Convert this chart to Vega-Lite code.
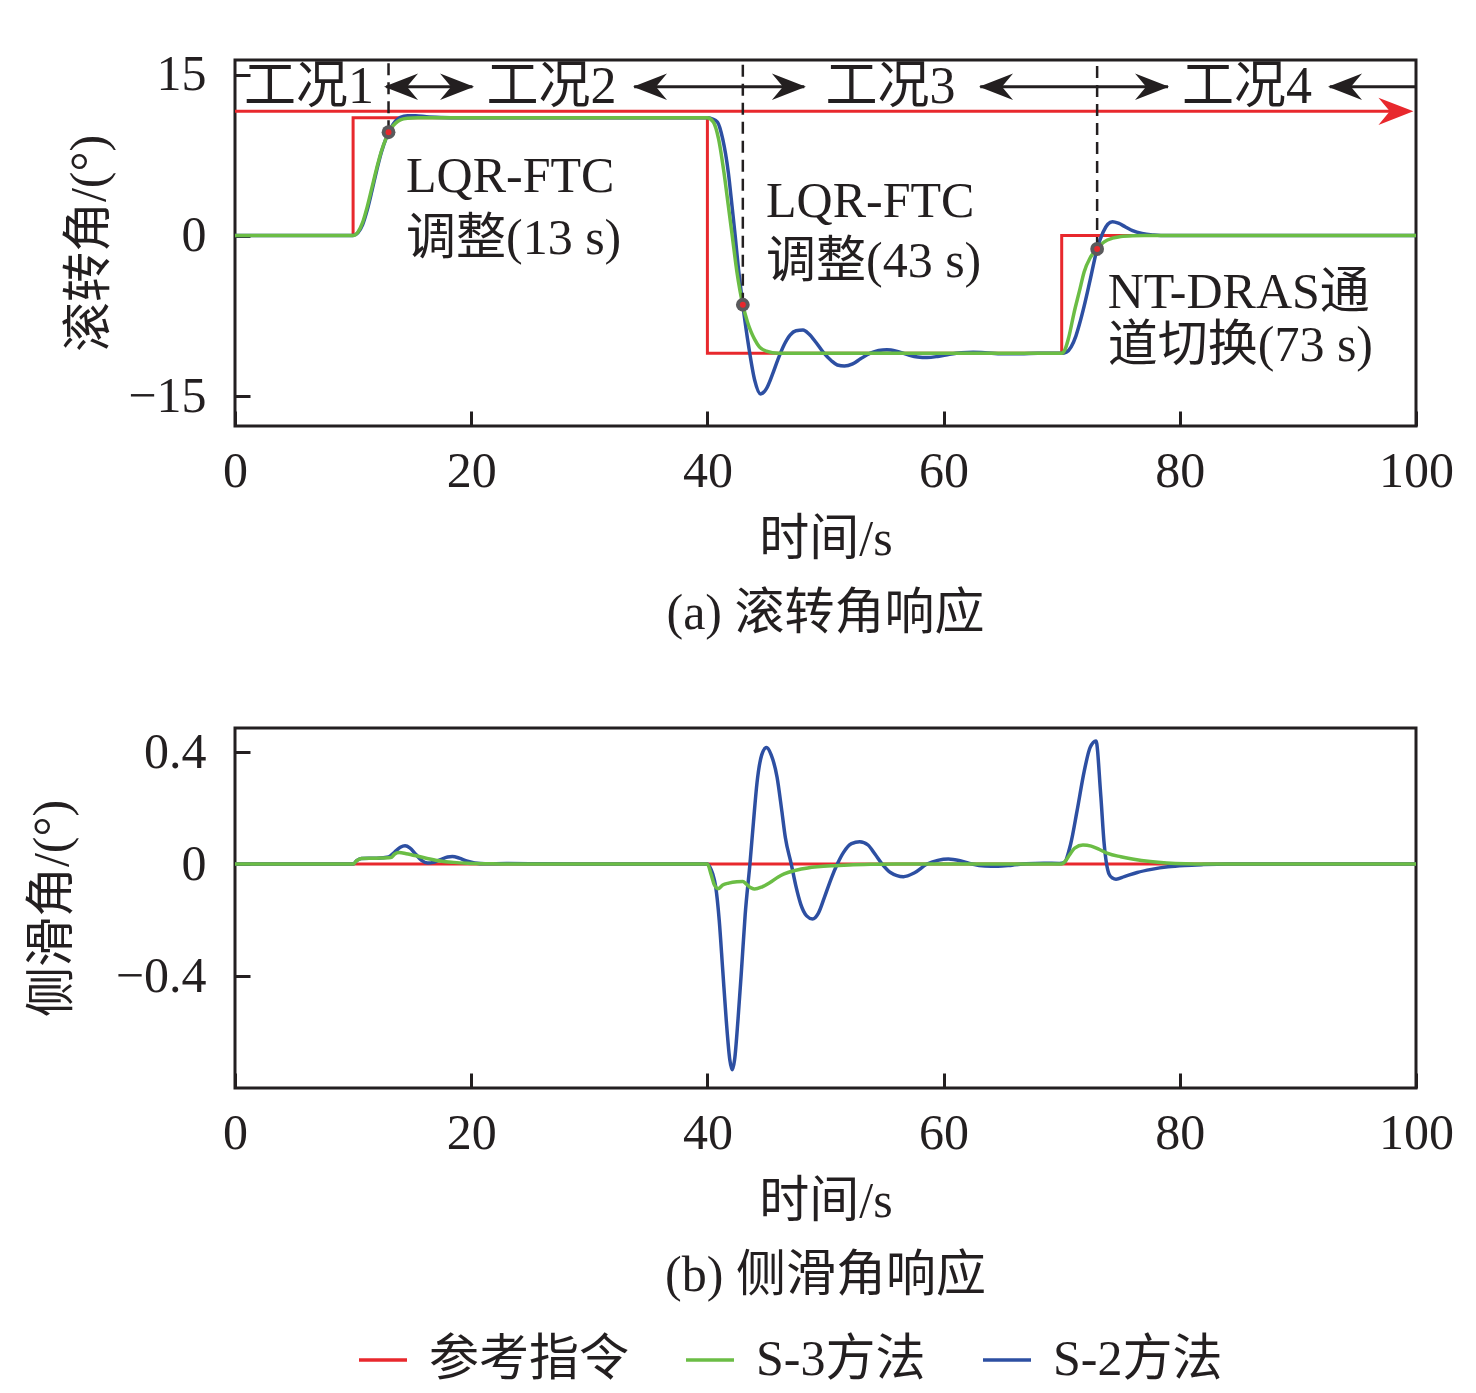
{
  "$schema": "https://vega.github.io/schema/vega-lite/v6.json",
  "padding": {"left": 25, "top": 48, "right": 5, "bottom": 5},
  "background": "white",
  "datasets": {
    "roll": [
      {"s":"参考指令","t":0,"v":0},{"s":"参考指令","t":10,"v":0},{"s":"参考指令","t":10,"v":11},{"s":"参考指令","t":40,"v":11},{"s":"参考指令","t":40,"v":-11},{"s":"参考指令","t":70,"v":-11},{"s":"参考指令","t":70,"v":0},{"s":"参考指令","t":100,"v":0},
      {"s":"S-3方法","t":0,"v":0},{"s":"S-3方法","t":10,"v":0},{"s":"S-3方法","t":10.4,"v":0.3},{"s":"S-3方法","t":10.8,"v":1.2},{"s":"S-3方法","t":11.2,"v":2.7},{"s":"S-3方法","t":11.6,"v":4.5},{"s":"S-3方法","t":12,"v":6.3},{"s":"S-3方法","t":12.4,"v":7.9},{"s":"S-3方法","t":12.8,"v":9.1},{"s":"S-3方法","t":13.2,"v":10.0},{"s":"S-3方法","t":13.6,"v":10.5},{"s":"S-3方法","t":14,"v":10.8},{"s":"S-3方法","t":14.6,"v":10.95},{"s":"S-3方法","t":15.5,"v":11},{"s":"S-3方法","t":40,"v":11},{"s":"S-3方法","t":40.5,"v":10.6},{"s":"S-3方法","t":40.95,"v":9.0},{"s":"S-3方法","t":41.4,"v":5.9},{"s":"S-3方法","t":41.77,"v":2.8},{"s":"S-3方法","t":42.1,"v":0},{"s":"S-3方法","t":42.5,"v":-3.4},{"s":"S-3方法","t":43,"v":-6.47},{"s":"S-3方法","t":43.4,"v":-8.1},{"s":"S-3方法","t":43.7,"v":-9.0},{"s":"S-3方法","t":44,"v":-9.7},{"s":"S-3方法","t":44.4,"v":-10.4},{"s":"S-3方法","t":45,"v":-10.8},{"s":"S-3方法","t":46,"v":-11},{"s":"S-3方法","t":70,"v":-11},{"s":"S-3方法","t":70.3,"v":-10.6},{"s":"S-3方法","t":70.6,"v":-9.5},{"s":"S-3方法","t":71.05,"v":-7.2},{"s":"S-3方法","t":71.5,"v":-5.2},{"s":"S-3方法","t":71.9,"v":-3.4},{"s":"S-3方法","t":72.4,"v":-2.1},{"s":"S-3方法","t":73,"v":-1.26},{"s":"S-3方法","t":73.6,"v":-0.6},{"s":"S-3方法","t":74.3,"v":-0.25},{"s":"S-3方法","t":75,"v":-0.1},{"s":"S-3方法","t":76,"v":-0.02},{"s":"S-3方法","t":77,"v":0},{"s":"S-3方法","t":100,"v":0},
      {"s":"S-2方法","t":0,"v":0},{"s":"S-2方法","t":10,"v":0},{"s":"S-2方法","t":10.4,"v":0.25},{"s":"S-2方法","t":10.8,"v":1.0},{"s":"S-2方法","t":11.2,"v":2.4},{"s":"S-2方法","t":11.6,"v":4.2},{"s":"S-2方法","t":12,"v":6.1},{"s":"S-2方法","t":12.4,"v":7.8},{"s":"S-2方法","t":12.8,"v":9.1},{"s":"S-2方法","t":13.2,"v":10.05},{"s":"S-2方法","t":13.6,"v":10.7},{"s":"S-2方法","t":14,"v":11.05},{"s":"S-2方法","t":14.6,"v":11.2},{"s":"S-2方法","t":15.3,"v":11.2},{"s":"S-2方法","t":16.2,"v":11.1},{"s":"S-2方法","t":17.5,"v":11.03},{"s":"S-2方法","t":19,"v":11},{"s":"S-2方法","t":40,"v":11},{"s":"S-2方法","t":40.4,"v":10.9},{"s":"S-2方法","t":40.85,"v":10.6},{"s":"S-2方法","t":41.3,"v":9.0},{"s":"S-2方法","t":41.77,"v":5.9},{"s":"S-2方法","t":42.1,"v":2.6},{"s":"S-2方法","t":42.35,"v":0},{"s":"S-2方法","t":42.6,"v":-2.8},{"s":"S-2方法","t":43,"v":-6.5},{"s":"S-2方法","t":43.5,"v":-10.4},{"s":"S-2方法","t":44,"v":-13.5},{"s":"S-2方法","t":44.5,"v":-14.8},{"s":"S-2方法","t":45,"v":-14.3},{"s":"S-2方法","t":45.5,"v":-13.0},{"s":"S-2方法","t":46,"v":-11.5},{"s":"S-2方法","t":46.5,"v":-10.2},{"s":"S-2方法","t":47,"v":-9.3},{"s":"S-2方法","t":47.5,"v":-8.9},{"s":"S-2方法","t":48.1,"v":-8.83},{"s":"S-2方法","t":48.6,"v":-9.2},{"s":"S-2方法","t":49.2,"v":-10.0},{"s":"S-2方法","t":49.8,"v":-10.9},{"s":"S-2方法","t":50.5,"v":-11.7},{"s":"S-2方法","t":51,"v":-12.1},{"s":"S-2方法","t":51.6,"v":-12.2},{"s":"S-2方法","t":52.3,"v":-12.0},{"s":"S-2方法","t":53,"v":-11.5},{"s":"S-2方法","t":53.8,"v":-11.0},{"s":"S-2方法","t":54.5,"v":-10.75},{"s":"S-2方法","t":55.2,"v":-10.67},{"s":"S-2方法","t":56,"v":-10.8},{"s":"S-2方法","t":57,"v":-11.15},{"s":"S-2方法","t":57.8,"v":-11.35},{"s":"S-2方法","t":58.6,"v":-11.4},{"s":"S-2方法","t":59.5,"v":-11.3},{"s":"S-2方法","t":60.5,"v":-11.1},{"s":"S-2方法","t":61.5,"v":-10.95},{"s":"S-2方法","t":62.5,"v":-10.9},{"s":"S-2方法","t":63.5,"v":-10.95},{"s":"S-2方法","t":65,"v":-11.05},{"s":"S-2方法","t":66.5,"v":-11.05},{"s":"S-2方法","t":68,"v":-11},{"s":"S-2方法","t":70,"v":-11},{"s":"S-2方法","t":70.4,"v":-10.9},{"s":"S-2方法","t":70.8,"v":-10.4},{"s":"S-2方法","t":71.2,"v":-9.4},{"s":"S-2方法","t":71.5,"v":-8.3},{"s":"S-2方法","t":71.9,"v":-6.6},{"s":"S-2方法","t":72.4,"v":-4.2},{"s":"S-2方法","t":73,"v":-1.26},{"s":"S-2方法","t":73.5,"v":0.3},{"s":"S-2方法","t":73.9,"v":1.05},{"s":"S-2方法","t":74.3,"v":1.29},{"s":"S-2方法","t":74.8,"v":1.15},{"s":"S-2方法","t":75.4,"v":0.8},{"s":"S-2方法","t":76,"v":0.45},{"s":"S-2方法","t":76.8,"v":0.18},{"s":"S-2方法","t":77.8,"v":0.05},{"s":"S-2方法","t":79,"v":0},{"s":"S-2方法","t":100,"v":0}
    ],
    "slip": [
      {"s":"参考指令","t":0,"v":0},{"s":"参考指令","t":100,"v":0},
      {"s":"S-3方法","t":0,"v":0},{"s":"S-3方法","t":10,"v":0},{"s":"S-3方法","t":10.3,"v":0.012},{"s":"S-3方法","t":10.7,"v":0.02},{"s":"S-3方法","t":12,"v":0.021},{"s":"S-3方法","t":13.2,"v":0.023},{"s":"S-3方法","t":13.5,"v":0.035},{"s":"S-3方法","t":13.9,"v":0.041},{"s":"S-3方法","t":14.5,"v":0.037},{"s":"S-3方法","t":15.5,"v":0.028},{"s":"S-3方法","t":16.5,"v":0.018},{"s":"S-3方法","t":17.5,"v":0.01},{"s":"S-3方法","t":18.5,"v":0.006},{"s":"S-3方法","t":19.7,"v":0.003},{"s":"S-3方法","t":21.5,"v":0.001},{"s":"S-3方法","t":23,"v":0},{"s":"S-3方法","t":40,"v":0},{"s":"S-3方法","t":40.3,"v":-0.035},{"s":"S-3方法","t":40.6,"v":-0.075},{"s":"S-3方法","t":40.9,"v":-0.088},{"s":"S-3方法","t":41.3,"v":-0.075},{"s":"S-3方法","t":41.8,"v":-0.068},{"s":"S-3方法","t":42.5,"v":-0.063},{"s":"S-3方法","t":43.0,"v":-0.062},{"s":"S-3方法","t":43.3,"v":-0.072},{"s":"S-3方法","t":43.7,"v":-0.085},{"s":"S-3方法","t":44.0,"v":-0.089},{"s":"S-3方法","t":44.6,"v":-0.082},{"s":"S-3方法","t":45.3,"v":-0.066},{"s":"S-3方法","t":46.0,"v":-0.046},{"s":"S-3方法","t":46.5,"v":-0.035},{"s":"S-3方法","t":47.5,"v":-0.022},{"s":"S-3方法","t":48.5,"v":-0.014},{"s":"S-3方法","t":49.3,"v":-0.01},{"s":"S-3方法","t":50.5,"v":-0.006},{"s":"S-3方法","t":52,"v":-0.003},{"s":"S-3方法","t":54,"v":-0.001},{"s":"S-3方法","t":56,"v":0},{"s":"S-3方法","t":70,"v":0},{"s":"S-3方法","t":70.3,"v":0.01},{"s":"S-3方法","t":70.7,"v":0.035},{"s":"S-3方法","t":71.1,"v":0.057},{"s":"S-3方法","t":71.8,"v":0.068},{"s":"S-3方法","t":72.5,"v":0.064},{"s":"S-3方法","t":73.2,"v":0.052},{"s":"S-3方法","t":73.9,"v":0.038},{"s":"S-3方法","t":75,"v":0.026},{"s":"S-3方法","t":76.1,"v":0.017},{"s":"S-3方法","t":77.5,"v":0.009},{"s":"S-3方法","t":78.9,"v":0.004},{"s":"S-3方法","t":80.5,"v":0.001},{"s":"S-3方法","t":82,"v":0},{"s":"S-3方法","t":100,"v":0},
      {"s":"S-2方法","t":0,"v":0},{"s":"S-2方法","t":10,"v":0},{"s":"S-2方法","t":10.3,"v":0.012},{"s":"S-2方法","t":10.7,"v":0.02},{"s":"S-2方法","t":12,"v":0.021},{"s":"S-2方法","t":13.0,"v":0.025},{"s":"S-2方法","t":13.5,"v":0.042},{"s":"S-2方法","t":14.0,"v":0.06},{"s":"S-2方法","t":14.4,"v":0.065},{"s":"S-2方法","t":14.8,"v":0.058},{"s":"S-2方法","t":15.3,"v":0.035},{"s":"S-2方法","t":15.8,"v":0.013},{"s":"S-2方法","t":16.3,"v":0.004},{"s":"S-2方法","t":16.8,"v":0.006},{"s":"S-2方法","t":17.4,"v":0.016},{"s":"S-2方法","t":18.0,"v":0.025},{"s":"S-2方法","t":18.4,"v":0.027},{"s":"S-2方法","t":19.0,"v":0.021},{"s":"S-2方法","t":19.6,"v":0.011},{"s":"S-2方法","t":20.3,"v":0.004},{"s":"S-2方法","t":21.2,"v":0.001},{"s":"S-2方法","t":23,"v":0.002},{"s":"S-2方法","t":26,"v":0.001},{"s":"S-2方法","t":30,"v":0},{"s":"S-2方法","t":40,"v":0},{"s":"S-2方法","t":40.2,"v":-0.01},{"s":"S-2方法","t":40.45,"v":-0.035},{"s":"S-2方法","t":40.7,"v":-0.08},{"s":"S-2方法","t":41.0,"v":-0.2},{"s":"S-2方法","t":41.3,"v":-0.38},{"s":"S-2方法","t":41.6,"v":-0.56},{"s":"S-2方法","t":41.9,"v":-0.7},{"s":"S-2方法","t":42.1,"v":-0.735},{"s":"S-2方法","t":42.3,"v":-0.7},{"s":"S-2方法","t":42.6,"v":-0.55},{"s":"S-2方法","t":42.9,"v":-0.37},{"s":"S-2方法","t":43.2,"v":-0.18},{"s":"S-2方法","t":43.6,"v":0},{"s":"S-2方法","t":43.9,"v":0.15},{"s":"S-2方法","t":44.2,"v":0.29},{"s":"S-2方法","t":44.6,"v":0.39},{"s":"S-2方法","t":45.0,"v":0.416},{"s":"S-2方法","t":45.4,"v":0.39},{"s":"S-2方法","t":45.9,"v":0.31},{"s":"S-2方法","t":46.3,"v":0.19},{"s":"S-2方法","t":46.6,"v":0.095},{"s":"S-2方法","t":47.1,"v":0},{"s":"S-2方法","t":47.5,"v":-0.08},{"s":"S-2方法","t":47.9,"v":-0.143},{"s":"S-2方法","t":48.4,"v":-0.185},{"s":"S-2方法","t":48.9,"v":-0.196},{"s":"S-2方法","t":49.4,"v":-0.175},{"s":"S-2方法","t":49.9,"v":-0.12},{"s":"S-2方法","t":50.5,"v":-0.05},{"s":"S-2方法","t":51.0,"v":0},{"s":"S-2方法","t":51.5,"v":0.04},{"s":"S-2方法","t":52.2,"v":0.073},{"s":"S-2方法","t":52.9,"v":0.08},{"s":"S-2方法","t":53.6,"v":0.068},{"s":"S-2方法","t":54.2,"v":0.035},{"s":"S-2方法","t":54.8,"v":0},{"s":"S-2方法","t":55.5,"v":-0.03},{"s":"S-2方法","t":56.6,"v":-0.045},{"s":"S-2方法","t":57.5,"v":-0.032},{"s":"S-2方法","t":58.6,"v":0},{"s":"S-2方法","t":59.5,"v":0.013},{"s":"S-2方法","t":60.4,"v":0.018},{"s":"S-2方法","t":61.4,"v":0.012},{"s":"S-2方法","t":62.4,"v":0},{"s":"S-2方法","t":63.5,"v":-0.007},{"s":"S-2方法","t":64.6,"v":-0.008},{"s":"S-2方法","t":65.8,"v":-0.004},{"s":"S-2方法","t":67,"v":0.001},{"s":"S-2方法","t":68.5,"v":0.003},{"s":"S-2方法","t":69.8,"v":0.002},{"s":"S-2方法","t":70.2,"v":0.005},{"s":"S-2方法","t":70.75,"v":0.07},{"s":"S-2方法","t":71.3,"v":0.19},{"s":"S-2方法","t":71.9,"v":0.33},{"s":"S-2方法","t":72.4,"v":0.416},{"s":"S-2方法","t":72.9,"v":0.44},{"s":"S-2方法","t":73.3,"v":0.25},{"s":"S-2方法","t":73.6,"v":0.07},{"s":"S-2方法","t":74.0,"v":-0.035},{"s":"S-2方法","t":74.3,"v":-0.05},{"s":"S-2方法","t":74.6,"v":-0.054},{"s":"S-2方法","t":75.3,"v":-0.045},{"s":"S-2方法","t":76.4,"v":-0.03},{"s":"S-2方法","t":77.6,"v":-0.019},{"s":"S-2方法","t":79,"v":-0.01},{"s":"S-2方法","t":80.4,"v":-0.005},{"s":"S-2方法","t":82,"v":-0.002},{"s":"S-2方法","t":84,"v":0},{"s":"S-2方法","t":100,"v":0}
    ],
    "switches": [{"t":13,"v":9.65},{"t":43,"v":-6.47},{"t":73,"v":-1.26}],
    "spans": [{"t":12.8,"t2":20.1,"v":13.9},{"t":33.8,"t2":48.2,"v":13.9},{"t":63.1,"t2":79.0,"v":13.9},{"t":92.7,"t2":100,"v":13.9}],
    "heads": [{"t":14.06,"v":13.9,"d":"L"},{"t":18.8,"v":13.9,"d":"R"},{"t":35.14,"v":13.9,"d":"L"},{"t":46.9,"v":13.9,"d":"R"},{"t":64.44,"v":13.9,"d":"L"},{"t":77.65,"v":13.9,"d":"R"},{"t":93.99,"v":13.9,"d":"L"}],
    "timeline": [{"t":0,"t2":98,"v":11.6}],
    "timehead": [{"t":98.3,"v":11.6,"d":"R"}],
    "cases": [{"t":6.27,"v":13.9,"text":"工况1"},{"t":26.8,"v":13.9,"text":"工况2"},{"t":55.5,"v":13.9,"text":"工况3"},{"t":85.7,"v":13.9,"text":"工况4"}],
    "notes": [{"t":14.48,"v":5.47,"text":"LQR-FTC"},{"t":14.48,"v":-0.33,"text":"调整(13 s)"},{"t":44.96,"v":3.13,"text":"LQR-FTC"},{"t":44.96,"v":-2.48,"text":"调整(43 s)"},{"t":73.9,"v":-5.37,"text":"NT-DRAS通"},{"t":73.9,"v":-10.33,"text":"道切换(73 s)"}]
  },
  "vconcat": [
    {
      "width": 1181,
      "height": 366,
      "title": {"text": "(a) 滚转角响应", "orient": "bottom", "offset": 25},
      "encoding": {
        "x": {"field": "t", "type": "quantitative", "scale": {"domain": [0, 100], "nice": false, "zero": false},
              "axis": {"values": [0,20,40,60,80,100], "format": ".0f", "title": "时间/s", "labelFlush": false, "labelPadding": 35, "titlePadding": 18}},
        "y": {"field": "v", "type": "quantitative", "scale": {"domain": [-17.8, 16.4], "nice": false, "zero": false},
              "axis": {"values": [-15,0,15], "format": ".0f", "title": "滚转角/(°)", "labelPadding": 44, "titlePadding": 13}}
      },
      "layer": [
        {"data": {"name": "roll"}, "transform": [{"filter": "datum.s == '参考指令'"}],
         "mark": {"type": "line", "strokeWidth": 3},
         "encoding": {"color": {"field": "s", "type": "nominal", "scale": {"domain": ["参考指令","S-3方法","S-2方法"], "range": ["#e8282d","#6bbd45","#2d4fa2"]}}}},
        {"data": {"name": "roll"}, "transform": [{"filter": "datum.s == 'S-2方法'"}],
         "mark": {"type": "line", "strokeWidth": 3.5, "interpolate": "monotone"},
         "encoding": {"color": {"field": "s", "type": "nominal"}}},
        {"data": {"name": "roll"}, "transform": [{"filter": "datum.s == 'S-3方法'"}],
         "mark": {"type": "line", "strokeWidth": 3.5, "interpolate": "monotone"},
         "encoding": {"color": {"field": "s", "type": "nominal"}}},
        {"data": {"name": "timeline"}, "mark": {"type": "rule", "color": "#e8282d", "strokeWidth": 3},
         "encoding": {"x2": {"field": "t2"}}},
        {"data": {"name": "timehead"}, "mark": {"type": "point", "filled": true, "color": "#e8282d", "opacity": 1, "size": 1225, "strokeWidth": 0},
         "encoding": {"shape": {"field": "d", "type": "nominal", "scale": {"domain": ["L","R"], "range": ["M-1,0L1,-0.78L0.35,0L1,0.78Z","M1,0L-1,-0.78L-0.35,0L-1,0.78Z"]}, "legend": null}}},
        {"data": {"name": "spans"}, "mark": {"type": "rule", "color": "#231f20", "strokeWidth": 3},
         "encoding": {"x2": {"field": "t2"}}},
        {"data": {"name": "heads"}, "mark": {"type": "point", "filled": true, "color": "#231f20", "opacity": 1, "size": 1156, "strokeWidth": 0},
         "encoding": {"shape": {"field": "d", "type": "nominal", "legend": null}}},
        {"data": {"name": "switches"}, "mark": {"type": "rule", "color": "#231f20", "strokeWidth": 2.5, "strokeDash": [12, 7]},
         "encoding": {"y2": {"datum": 16.4}}},
        {"data": {"name": "switches"}, "mark": {"type": "point", "filled": true, "color": "#5a5a5c", "opacity": 1, "size": 190, "strokeWidth": 0}},
        {"data": {"name": "switches"}, "mark": {"type": "point", "filled": true, "color": "#e8282d", "opacity": 1, "size": 35, "strokeWidth": 0}},
        {"data": {"name": "cases"}, "mark": {"type": "text", "font": "Liberation Serif, Noto Sans CJK SC", "fontSize": 52, "color": "#231f20", "align": "center", "baseline": "middle"},
         "encoding": {"text": {"field": "text"}}},
        {"data": {"name": "notes"}, "mark": {"type": "text", "font": "Liberation Serif, Noto Sans CJK SC", "fontSize": 50, "color": "#231f20", "align": "left", "baseline": "middle"},
         "encoding": {"text": {"field": "text"}}}
      ]
    },
    {
      "width": 1181,
      "height": 360,
      "title": {"text": "(b) 侧滑角响应", "orient": "bottom", "offset": 25},
      "data": {"name": "slip"},
      "encoding": {
        "x": {"field": "t", "type": "quantitative", "scale": {"domain": [0, 100], "nice": false, "zero": false},
              "axis": {"values": [0,20,40,60,80,100], "format": ".0f", "title": "时间/s", "labelFlush": false, "labelPadding": 35, "titlePadding": 18}},
        "y": {"field": "v", "type": "quantitative", "scale": {"domain": [-0.8, 0.486], "nice": false, "zero": false},
              "axis": {"values": [-0.4,0,0.4], "format": ".1~f", "title": "侧滑角/(°)", "labelPadding": 44, "titlePadding": 38}}
      },
      "layer": [
        {"transform": [{"filter": "datum.s == '参考指令'"}],
         "mark": {"type": "line", "strokeWidth": 3},
         "encoding": {"color": {"field": "s", "type": "nominal", "scale": {"domain": ["参考指令","S-3方法","S-2方法"], "range": ["#e8282d","#6bbd45","#2d4fa2"]},
           "legend": {"orient": "none", "legendX": 122, "legendY": 1274, "direction": "horizontal", "title": null, "symbolType": "stroke", "symbolSize": 2304, "symbolStrokeWidth": 3.5, "labelFontSize": 50, "labelFont": "Liberation Serif, Noto Sans CJK SC", "labelColor": "#231f20", "labelOffset": 20, "columnPadding": 50, "labelLimit": 400}}}},
        {"transform": [{"filter": "datum.s == 'S-2方法'"}],
         "mark": {"type": "line", "strokeWidth": 3.5, "interpolate": "monotone"},
         "encoding": {"color": {"field": "s", "type": "nominal"}}},
        {"transform": [{"filter": "datum.s == 'S-3方法'"}],
         "mark": {"type": "line", "strokeWidth": 3.5, "interpolate": "monotone"},
         "encoding": {"color": {"field": "s", "type": "nominal"}}}
      ]
    }
  ],
  "spacing": 84,
  "config": {
    "view": {"stroke": "#231f20", "strokeWidth": 3},
    "axis": {"domain": false, "grid": false, "tickColor": "#231f20", "tickWidth": 3, "tickSize": -15,
             "labelFont": "Liberation Serif, Noto Sans CJK SC", "labelFontSize": 50, "labelColor": "#231f20",
             "titleFont": "Liberation Serif, Noto Sans CJK SC", "titleFontSize": 50, "titleFontWeight": "normal", "titleColor": "#231f20"},
    "title": {"font": "Liberation Serif, Noto Sans CJK SC", "fontSize": 50, "fontWeight": "normal", "color": "#231f20", "anchor": "middle"}
  }
}
